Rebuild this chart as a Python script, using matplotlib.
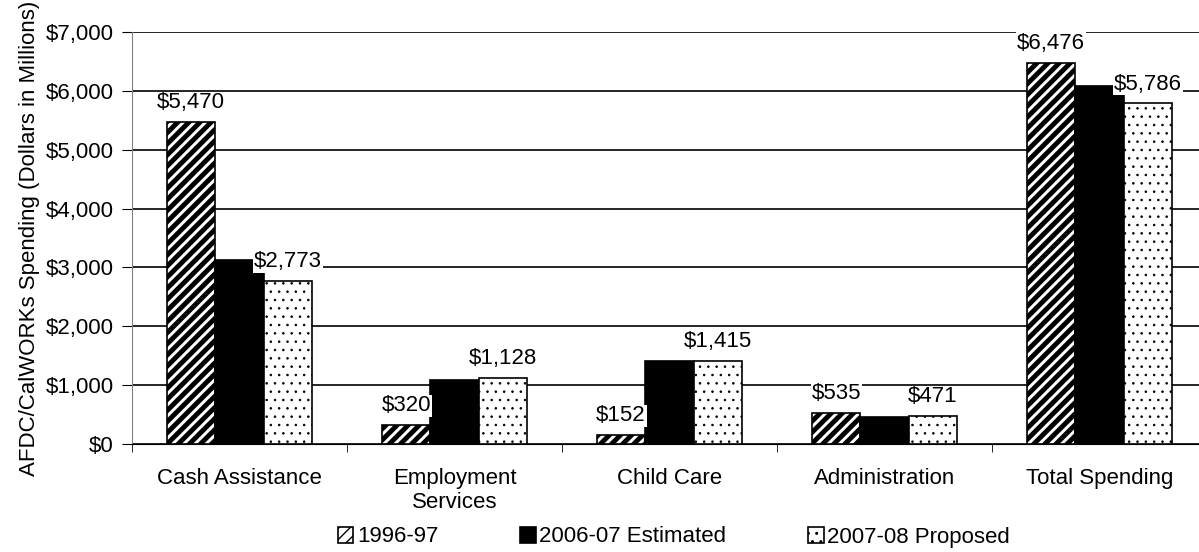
import matplotlib.pyplot as plt
import numpy as np

plt.rcParams["font.family"] = ["Liberation Sans", "DejaVu Sans"]
plt.rcParams["hatch.color"] = "black"

categories = ["Cash Assistance", "Employment\nServices", "Child Care",
              "Administration", "Total Spending"]
series_names = ["1996-97", "2006-07 Estimated", "2007-08 Proposed"]
spend_9697 = [5470, 320, 152, 535, 6476]
spend_0607 = [3120, 1090, 1415, 460, 6090]
spend_0708 = [2773, 1128, 1415, 471, 5786]
yticks = [0, 1000, 2000, 3000, 4000, 5000, 6000, 7000]

fs = 16
fig = plt.figure(figsize=(11.99, 5.52), dpi=100)
ax = fig.add_axes([132 / 1199, 108 / 552, 1075 / 1199, 412 / 552])

x = np.arange(len(categories))
w = 0.225
hatches = ["///", "", ".."]
hatch_lw = [3.5, 1.0, 0.6]
faces = ["white", "black", "white"]
series = [spend_9697, spend_0607, spend_0708]

bars = []
for i, vals in enumerate(series):
    with plt.rc_context({"hatch.linewidth": hatch_lw[i]}):
        b = ax.bar(x + (i - 1) * w, vals, w, color=faces[i], edgecolor="black",
                   hatch=hatches[i], linewidth=1.2, label=series_names[i],
                   zorder=3)
    for p in b:
        if hasattr(p, "set_hatch_linewidth"):
            p.set_hatch_linewidth(hatch_lw[i])
    bars.append(b)

# value labels on the first and last series, white boxes hide the gridlines
for b, vals in ((bars[0], spend_9697), (bars[2], spend_0708)):
    for rect, v in zip(b, vals):
        ax.text(rect.get_x() + rect.get_width() / 2, v + 150, f"${v:,}",
                ha="center", va="bottom", fontsize=fs,
                bbox=dict(facecolor="white", edgecolor="none", pad=0.5),
                zorder=4)

ax.set_xlim(-0.5, 4.5)
ax.set_ylim(0, 7000)
ax.set_yticks(yticks)
ax.set_yticklabels([f"${v:,}" for v in yticks], fontsize=fs)
ax.set_xticks(x)
ax.set_xticklabels(categories, fontsize=fs)
ax.set_xticks(np.arange(-0.5, 5, 1), minor=True)
ax.tick_params(axis="x", which="major", length=0, pad=17)
ax.tick_params(axis="x", which="minor", length=6, direction="out")
ax.tick_params(axis="y", length=7, direction="out", pad=6)
ax.grid(axis="y", color="black", linewidth=1.2, zorder=0)

for s in ("top", "right"):
    ax.spines[s].set_visible(False)
ax.spines["left"].set_color("gray")
ax.spines["bottom"].set_color("black")

ax.set_ylabel("AFDC/CalWORKs Spending (Dollars in Millions)", fontsize=fs,
              labelpad=4)

fig.legend(handles=bars, labels=series_names, loc="center",
           bbox_to_anchor=(674 / 1199, 1 - 537 / 552), ncol=3, frameon=False,
           fontsize=fs, handlelength=0.7, handleheight=0.7, handletextpad=0.15,
           columnspacing=3.7)

fig.savefig("out.png", dpi=100)
